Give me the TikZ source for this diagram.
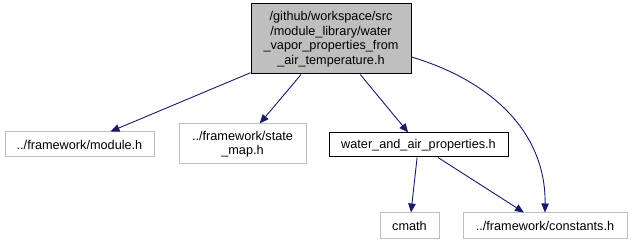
\documentclass[tikz,border=0pt]{standalone}
\usepackage{fontspec}
\setmainfont{Liberation Sans}
\usetikzlibrary{arrows.meta}
\definecolor{edgeblue}{HTML}{191970}
\definecolor{boxgray}{HTML}{BFBFBF}
\tikzset{
	file/.style={draw=boxgray, fill=white, line width=1pt, inner sep=0pt, align=center,
		font=\fontsize{12.7}{14.5}\selectfont},
	root/.style={file, draw=black, fill=boxgray},
	dep/.style={file, draw=black},
	incl/.style={draw=edgeblue, line width=0.9pt, -{Triangle[length=9pt,width=7.5pt]}}
}

\begin{document}
\begin{tikzpicture}[x=1pt, y=-1pt]
		%%%%% START %%%%%
		
		\useasboundingbox (0, 0) rectangle (633, 245);
		
		\node[root, minimum width=160, minimum height=70] (top) at (331, 39)
			{/github/workspace/src\\/module\_library/water\\\_vapor\_properties\_from\\\_air\_temperature.h};
		
		\node[file, minimum width=149, minimum height=25] (module) at (79.5, 144.5) {../framework/module.h};
		\node[file, minimum width=127, minimum height=40] (statemap) at (242.5, 144) {../framework/state\\\_map.h};
		\node[dep, minimum width=179, minimum height=24] (waterair) at (418.5, 145) {water\_and\_air\_properties.h};
		
		\node[file, minimum width=59, minimum height=26] (cmath) at (409.5, 226) {cmath};
		\node[file, minimum width=164, minimum height=26] (constants) at (545, 226) {../framework/constants.h};
		
		\draw[incl] (top) -- (module);
		\draw[incl] (top) -- (statemap);
		\draw[incl] (top) -- (waterair);
		\draw[incl] (top.east |- 0, 57) .. controls (495, 82) and (546, 135) .. (constants.north);
		
		\draw[incl] (waterair) -- (cmath);
		\draw[incl] (waterair) -- (constants);
		
		%%%%% END %%%%%
	\end{tikzpicture}
\end{document}
